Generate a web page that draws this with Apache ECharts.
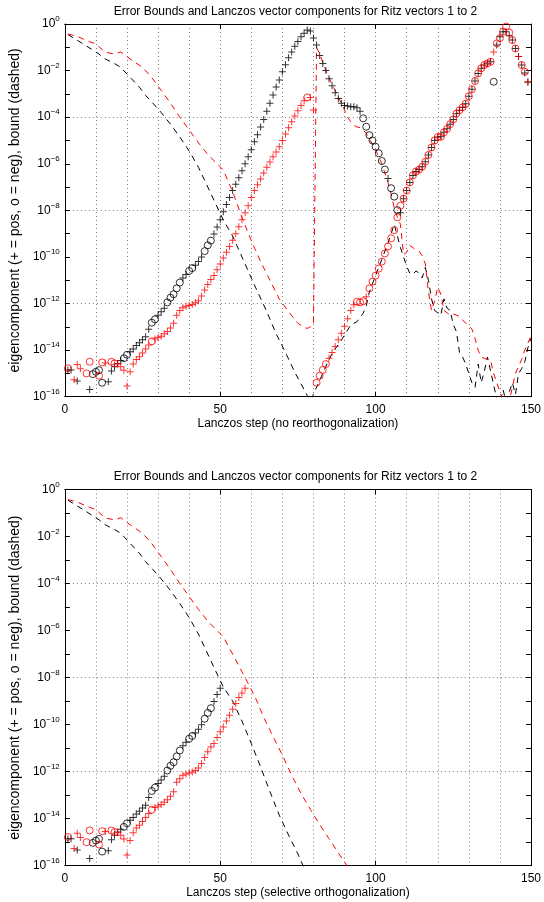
<!DOCTYPE html>
<html>
<head>
<meta charset="utf-8">
<script src="https://cdn.jsdelivr.net/npm/echarts@6/dist/echarts.min.js"></script>
<style>html,body{margin:0;padding:0;background:#fff}#c{width:544px;height:902px}</style>
</head>
<body>
<div id="c"></div>
<script>
// ---------- data (log10 of magnitudes) ----------
const STEPS = Array.from({length: 150}, (_, i) => i + 1);

const titleText = 'Error Bounds and Lanczos vector components for Ritz vectors 1 to 2';
const yName = 'eigencomponent (+ = pos, o = neg), bound (dashed)';
const xNameTop = 'Lanczos step (no reorthogonalization)';
const xNameBottom = 'Lanczos step (selective orthogonalization)';
const xTicks = [0, 50, 100, 150];

// top plot: Lanczos vector components of Ritz vector 1 (black) and 2 (red)
const topBlackLog = [
  -14.85,-14.85,null,-15.33,null,null,null,-15.69,-15.03,-14.93,
  -14.86,-15.4,null,-15.36,-14.9,-14.71,-14.57,-14.45,-14.35,-14.2,
  -14.07,-13.95,-13.8,-13.68,-13.55,-13.43,-13.1,-12.82,-12.68,-12.5,
  -12.35,-12.2,-11.95,-11.75,-11.6,-11.35,-11.1,-10.9,-10.75,-10.6,
  -10.48,-10.36,-10.2,-10.0,-9.75,-9.5,-9.3,-9.02,-8.72,-8.4,
  -8.06,-7.75,-7.45,-7.15,-6.88,-6.6,-6.3,-6.0,-5.7,-5.4,
  -5.05,-4.75,-4.42,-4.1,-3.75,-3.4,-3.05,-2.7,-2.4,-2.05,
  -1.75,-1.45,-1.2,-0.95,-0.75,-0.55,-0.4,-0.26,-0.3,-0.6,
  -0.9,-1.35,-1.7,-2.0,-2.35,-2.65,-2.95,-3.2,-3.4,-3.5,
  -3.52,-3.55,-3.55,-3.6,-3.75,-4.05,-4.41,-4.77,-5.0,-5.27,
  -5.55,-5.88,-6.25,-6.63,-7.05,-7.41,-7.99,-8.1,-7.5,-7.15,
  -6.8,-6.5,-6.33,-6.25,-6.13,-5.91,-5.62,-5.3,-5.0,-4.85,
  -4.84,-4.65,-4.5,-4.3,-4.1,-3.85,-3.7,-3.58,-3.42,-3.1,
  -2.8,-2.45,-2.12,-1.9,-1.76,-1.69,-1.62,-2.48,-0.9,-0.55,
  -0.33,-0.33,-0.5,-0.69,-1.05,-1.4,-1.76,-2.1,-2.5,null
];
const topBlackSign = [
  '++.+...+oo','oo.+++++oo','+++++++oo+','++ooooo++o','o+++ooo+++',
  '++++++++++','++++++++++','++++++++++','++++++++++','+++++ooooo',
  'ooo+ooo+++','++++++++++','++++++++++','+++++++o++','+++++++++.'
].join('');

const topRedLog = [
  -14.78,null,-15.27,-14.62,-14.8,null,-15.0,-14.5,null,null,
  -15.1,-14.53,-14.55,null,-14.5,-14.57,-14.6,-14.71,-14.86,-15.54,
  -14.93,-14.6,-14.4,-14.28,-14.12,-13.95,-13.78,-13.62,-13.52,-13.46,
  -13.4,-13.3,-13.2,-13.05,-12.85,-12.5,-12.3,-12.18,-12.12,-12.08,
  -12.04,-11.97,-11.88,-11.68,-11.42,-11.18,-10.97,-10.8,-10.55,-10.3,
  -10.05,-9.8,-9.55,-9.28,-9.0,-8.7,-8.4,-8.1,-7.8,-7.45,
  -7.15,-6.9,-6.65,-6.4,-6.15,-5.92,-5.7,-5.5,-5.27,-5.0,
  -4.72,-4.45,-4.2,-3.95,-3.72,-3.5,-3.3,-3.15,-3.15,-3.69,
  -15.4,-15.1,-14.85,-14.6,-14.35,-14.1,-13.85,-13.55,-13.28,-12.98,
  -12.65,-12.3,-12.05,-11.92,-11.95,-11.9,-11.71,-11.35,-11.06,-10.8,
  -10.5,-10.2,-9.85,-9.55,-9.2,-8.85,-8.3,-7.8,-7.5,-7.15,
  -6.8,-6.5,-6.33,-6.25,-6.13,-5.91,-5.62,-5.3,-5.0,-4.85,
  -4.84,-4.65,-4.5,-4.3,-4.1,-3.85,-3.7,-3.58,-3.42,-3.1,
  -2.8,-2.45,-2.12,-1.9,-1.76,-1.69,-1.62,-1.2,-0.83,-0.61,
  -0.33,-0.11,-0.37,-0.69,-1.05,-1.4,-1.76,-2.05,-2.48,null
];
const topRedSign = [
  'o.+++.oo..','oo+.oo++++','+++++++o++','++++++++++','++++++++++',
  '++++++++++','++++++++++','+++++++o++','oooo++++++','+++ooo+ooo',
  'oooooooooo','oooooooooo','oooooooooo','ooooooo+oo','ooooo+oo+.'
].join('');

// top plot: error bounds, [step, log10 bound]
const topBlackBound = [
  [1,-0.45],[3,-0.62],[6,-0.86],[9,-1.12],[11,-1.29],[13,-1.5],[16,-1.7],[18,-1.86],
  [21,-2.29],[24,-2.71],[26,-3.07],[28,-3.35],[31,-3.8],[34,-4.3],[37,-4.85],[40,-5.45],
  [43,-6.15],[46,-7.0],[49,-7.85],[51,-8.42],[54,-9.1],[57,-10.0],[61,-11.2],[65,-12.35],
  [68,-13.3],[71,-14.1],[74,-14.95],[77,-15.7],[79,-16.2],[80,-15.9],[82,-15.3],[84,-14.7],
  [86,-14.14],[89,-13.57],[92,-12.92],[94,-12.78],[96,-12.42],[97,-12.1],[98,-11.5],[100,-10.8],
  [102,-10.1],[104,-9.4],[106,-8.6],[107,-9.1],[108,-9.6],[109,-10.0],[110,-10.4],[111,-10.7],
  [112,-10.75],[113,-10.6],[114,-10.7],[115,-10.9],[116,-10.45],[117,-11.0],[118,-11.8],[119,-12.3],
  [120,-12.4],[121,-12.5],[122,-11.8],[123,-12.2],[124,-12.3],[125,-12.9],[126,-13.2],[127,-14.1],
  [128,-14.3],[129,-14.6],[130,-15.0],[131,-15.4],[132,-15.6],[133,-14.6],[134,-15.4],[135,-14.9],
  [136,-14.3],[137,-14.9],[138,-15.5],[139,-16.1],[140,-16.3],[141,-15.7],[142,-16.2],[143,-15.8],
  [144,-15.4],[145,-15.9],[146,-15.0],[147,-14.8],[148,-14.5],[149,-13.9],[150,-13.5]
];
const topRedBound = [
  [1,-0.43],[4,-0.53],[7,-0.71],[10,-0.86],[13,-1.21],[16,-1.29],[18,-1.2],[21,-1.5],
  [25,-1.86],[28,-2.3],[31,-2.85],[34,-3.4],[37,-4.0],[40,-4.55],[43,-5.1],[46,-5.6],
  [49,-6.0],[51,-6.27],[54,-7.2],[57,-8.3],[60,-9.3],[63,-10.2],[66,-11.0],[69,-11.8],
  [72,-12.35],[75,-12.85],[77,-13.02],[78,-13.07],[79,-13.0],[80,-12.9],[81,-1.0],[82,-1.3],
  [83,-1.65],[84,-2.0],[85,-2.3],[86,-2.6],[87,-2.85],[88,-3.15],[89,-3.4],[90,-3.7],
  [91,-4.0],[92,-4.2],[93,-4.35],[94,-4.42],[95,-4.45],[96,-4.55],[97,-4.7],[98,-4.95],
  [99,-5.15],[100,-5.4],[101,-5.7],[102,-6.0],[103,-6.4],[104,-6.8],[105,-7.3],[106,-7.9],
  [107,-8.3],[108,-8.6],[109,-9.9],[110,-9.8],[111,-9.5],[112,-9.6],[113,-9.7],[114,-9.75],
  [115,-9.95],[116,-10.3],[117,-11.5],[118,-12.3],[119,-11.9],[120,-11.3],[121,-11.6],[122,-12.3],
  [123,-12.4],[124,-12.5],[125,-12.45],[126,-12.5],[127,-12.55],[128,-12.7],[129,-12.85],[130,-12.95],
  [131,-13.1],[132,-13.5],[133,-14.0],[134,-14.3],[135,-14.35],[136,-14.4],[137,-14.45],[138,-15.0],
  [139,-15.4],[140,-15.8],[141,-16.2],[142,-16.3],[143,-16.2],[144,-15.6],[145,-15.0],[146,-14.7],
  [147,-14.4],[148,-14.0],[149,-13.7],[150,-13.4]
];

// bottom plot (selective orthogonalization)
const bottomBlackLog = [
  -14.85,-14.85,null,-15.33,null,null,null,-15.69,-15.03,-14.93,
  -14.86,-15.4,null,-15.36,-14.9,-14.71,-14.57,-14.45,-14.35,-14.2,
  -14.07,-13.95,-13.8,-13.68,-13.55,-13.43,-13.1,-12.82,-12.68,-12.5,
  -12.35,-12.2,-11.95,-11.75,-11.6,-11.35,-11.1,-10.9,-10.75,-10.6,
  -10.48,-10.36,-10.2,-10.0,-9.75,-9.5,-9.3,-9.02,-8.72,-8.45
];
const bottomBlackSign = ['++.+...+oo','oo.+++++oo','+++++++oo+','++ooooo++o','o+++ooo+++'].join('');

const bottomRedLog = [
  -14.78,null,-15.27,-14.62,-14.8,null,-15.0,-14.5,null,null,
  -15.1,-14.53,-14.55,null,-14.5,-14.57,-14.6,-14.71,-14.86,-15.54,
  -14.93,-14.6,-14.4,-14.28,-14.12,-13.95,-13.78,-13.62,-13.52,-13.46,
  -13.4,-13.3,-13.2,-13.05,-12.85,-12.45,-12.3,-12.15,-12.1,-12.06,
  -12.02,-11.95,-11.85,-11.65,-11.4,-11.15,-10.95,-10.8,-10.55,-10.3,
  -10.1,-9.85,-9.6,-9.35,-9.1,-8.85,-8.65,-8.45
];
const bottomRedSign = ['o.+++.oo..','oo+.oo++++','+++++++o++','++++++++++','++++++++++','++++++++'].join('');

const bottomBlackBound = [
  [1,-0.45],[3,-0.62],[6,-0.86],[9,-1.12],[11,-1.29],[13,-1.5],[16,-1.7],[18,-1.86],
  [21,-2.29],[24,-2.71],[26,-3.07],[28,-3.35],[31,-3.8],[34,-4.3],[37,-4.85],[40,-5.45],
  [43,-6.15],[46,-7.0],[49,-7.85],[51,-8.4],[54,-9.0],[57,-9.85],[60,-10.8],[63,-11.8],
  [66,-12.85],[69,-13.85],[72,-14.7],[75,-15.5],[77,-16.1]
];
const bottomRedBound = [
  [1,-0.43],[4,-0.53],[7,-0.71],[10,-0.86],[13,-1.21],[16,-1.29],[18,-1.2],[21,-1.5],
  [25,-1.86],[28,-2.3],[31,-2.85],[34,-3.4],[37,-4.0],[40,-4.55],[43,-5.1],[46,-5.6],
  [49,-6.0],[51,-6.27],[54,-7.0],[57,-7.75],[60,-8.5],[62,-9.05],[64,-9.7],[67,-10.5],
  [70,-11.3],[73,-12.15],[76,-12.93],[79,-13.6],[82,-14.25],[85,-14.85],[88,-15.45],[91,-16.05]
];

// ---------- helpers ----------
function markers(logs, signs, kind) {
  const out = [];
  logs.forEach((v, i) => {
    if (v !== null && signs[i] === kind) out.push([STEPS[i], Math.pow(10, v)]);
  });
  return out;
}
function bound(pairs) { return pairs.map(p => [p[0], Math.pow(10, p[1])]); }

const FONT = '"Liberation Sans", Arial, Helvetica, sans-serif';
const PLUS = 'path://M3,0H4V3H7V4H4V7H3V4H0V3H3Z';
const GRID_COLOR = '#7a7a7a';

function supLabel(v) {
  const e = Math.round(Math.log10(v));
  if (e % 2 !== 0) return '';
  return '{b|10}{s|' + (e < 0 ? '\u2212' + (-e) : String(e)) + '}';
}

const grids = [
  {left: 58.5, top: 24, width: 473.8, height: 372.7},
  {left: 58.5, top: 489.5, width: 473.8, height: 376.2}
];

const xAxes = [], yAxes = [], series = [];

function buildPlot(g, xName, blackLog, blackSign, redLog, redSign, blackBound, redBound) {
  const xi = xAxes.length, yi = yAxes.length;
  xAxes.push({
    type: 'value', gridIndex: g, min: xTicks[0], max: xTicks[xTicks.length - 1], interval: 50,
    position: 'bottom',
    axisLine: {show: true, onZero: false, lineStyle: {color: '#000', width: 1}},
    axisTick: {show: true, inside: true, length: 5, lineStyle: {color: '#000'}},
    axisLabel: {show: true, margin: 7, fontSize: 12, fontFamily: FONT, color: '#000'},
    splitLine: {show: false},
    name: xName, nameLocation: 'middle', nameGap: 21,
    nameTextStyle: {fontSize: 12, fontFamily: FONT, color: '#000'}
  });
  xAxes.push({
    type: 'value', gridIndex: g, min: 0, max: 150, interval: 50, position: 'top',
    axisLine: {show: true, onZero: false, lineStyle: {color: '#000', width: 1}},
    axisTick: {show: true, inside: true, length: 5, lineStyle: {color: '#000'}},
    axisLabel: {show: false}, splitLine: {show: false}
  });
  xAxes.push({
    type: 'value', gridIndex: g, min: 0, max: 150, interval: 10, position: 'bottom',
    axisLine: {show: false}, axisTick: {show: false}, axisLabel: {show: false},
    splitLine: {show: true, lineStyle: {color: GRID_COLOR, width: 1, type: [1, 3]}}
  });
  yAxes.push({
    type: 'log', logBase: 10, gridIndex: g, min: 1e-16, max: 1, interval: 1, position: 'left',
    axisLine: {show: true, onZero: false, lineStyle: {color: '#000', width: 1}},
    axisTick: {show: true, inside: true, length: 5, lineStyle: {color: '#000'}},
    axisLabel: {
      show: true, interval: 0, margin: 5, formatter: supLabel, color: '#000',
      rich: {
        b: {fontSize: 12, fontFamily: FONT, color: '#000', lineHeight: 18, verticalAlign: 'middle'},
        s: {fontSize: 8, fontFamily: FONT, color: '#000', lineHeight: 8, verticalAlign: 'top'}
      }
    },
    splitLine: {show: false},
    name: yName, nameLocation: 'middle', nameGap: 29,
    nameTextStyle: {fontSize: 14, fontFamily: FONT, color: '#000'}
  });
  yAxes.push({
    type: 'log', logBase: 10, gridIndex: g, min: 1e-16, max: 1, interval: 1, position: 'right',
    axisLine: {show: true, onZero: false, lineStyle: {color: '#000', width: 1}},
    axisTick: {show: true, inside: true, length: 5, lineStyle: {color: '#000'}},
    axisLabel: {show: false}, splitLine: {show: false}
  });
  yAxes.push({
    type: 'log', logBase: 10, gridIndex: g, min: 1e-16, max: 1, interval: 4, position: 'left',
    axisLine: {show: false}, axisTick: {show: false}, axisLabel: {show: false},
    splitLine: {show: true, lineStyle: {color: GRID_COLOR, width: 1, type: [1, 3]}}
  });

  const common = {xAxisIndex: xi, yAxisIndex: yi, silent: true, clip: true, animation: false};
  series.push(Object.assign({
    type: 'line', data: bound(blackBound), symbol: 'none', z: 2,
    lineStyle: {color: '#000', width: 1, type: [6, 5]}
  }, common));
  series.push(Object.assign({
    type: 'line', data: bound(redBound), symbol: 'none', z: 2,
    lineStyle: {color: '#ff0000', width: 1, type: [6, 5]}
  }, common));
  series.push(Object.assign({
    type: 'scatter', data: markers(blackLog, blackSign, '+'), symbol: PLUS, symbolSize: 7, z: 3,
    itemStyle: {color: '#000'}
  }, common));
  series.push(Object.assign({
    type: 'scatter', data: markers(blackLog, blackSign, 'o'), symbol: 'circle', symbolSize: 7, z: 3,
    itemStyle: {color: 'rgba(0,0,0,0)', borderColor: '#000', borderWidth: 1}
  }, common));
  series.push(Object.assign({
    type: 'scatter', data: markers(redLog, redSign, '+'), symbol: PLUS, symbolSize: 7, z: 4,
    itemStyle: {color: '#ff0000'}
  }, common));
  series.push(Object.assign({
    type: 'scatter', data: markers(redLog, redSign, 'o'), symbol: 'circle', symbolSize: 7, z: 4,
    itemStyle: {color: 'rgba(0,0,0,0)', borderColor: '#ff0000', borderWidth: 1}
  }, common));
}

buildPlot(0, xNameTop, topBlackLog, topBlackSign, topRedLog, topRedSign, topBlackBound, topRedBound);
buildPlot(1, xNameBottom, bottomBlackLog, bottomBlackSign, bottomRedLog, bottomRedSign, bottomBlackBound, bottomRedBound);

function titleEl(y) {
  return {
    type: 'text', x: 295.4, y: y, silent: true,
    style: {
      text: titleText, fontSize: 12, fontFamily: FONT, fill: '#000',
      align: 'center', verticalAlign: 'middle', textAlign: 'center', textVerticalAlign: 'middle'
    }
  };
}

const chart = echarts.init(document.getElementById('c'), null, {renderer: 'canvas'});
chart.setOption({
  animation: false,
  backgroundColor: '#fff',
  grid: grids,
  xAxis: xAxes,
  yAxis: yAxes,
  series: series,
  graphic: [titleEl(12), titleEl(477)]
});
</script>
</body>
</html>
